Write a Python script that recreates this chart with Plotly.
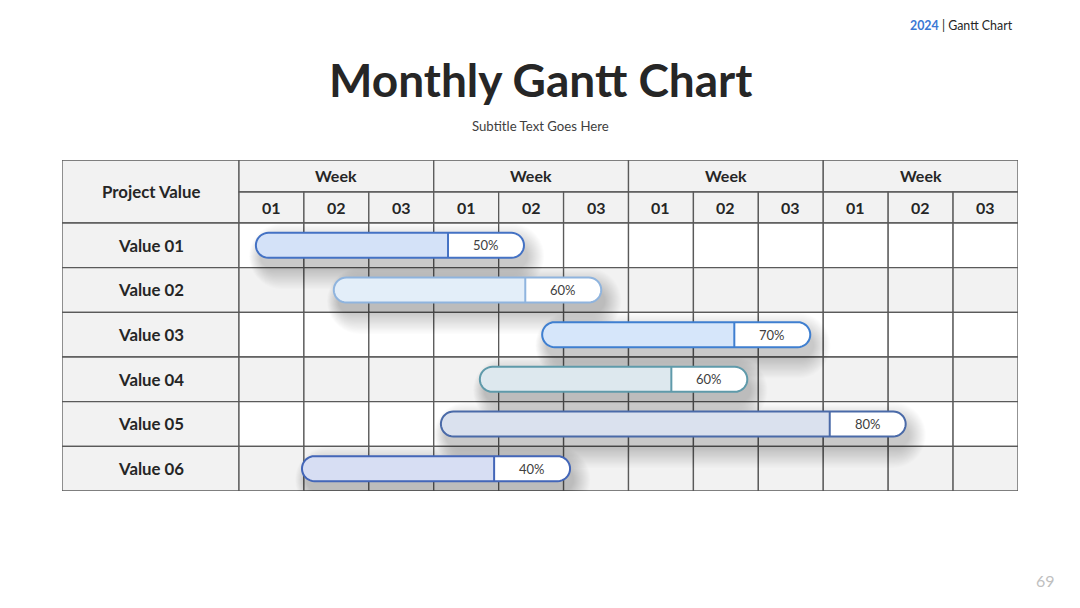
import plotly.graph_objects as go
import math

# ---------------- data ----------------
categories = ["Value 01", "Value 02", "Value 03", "Value 04", "Value 05", "Value 06"]
starts = [0.26, 1.46, 4.67, 3.71, 3.11, 0.97]      # in week-column units
ends = [4.39, 5.58, 8.80, 7.83, 10.27, 5.10]
progress = [50, 60, 70, 60, 80, 40]
week_groups = ["Week", "Week", "Week", "Week"]
week_numbers = ["01", "02", "03"]

# ---------------- styles ----------------
fills = ["#d4e2f8", "#e3eef9", "#d6e6fa", "#dde8ee", "#dae1ee", "#d7def3"]
borders = ["#4472c4", "#8fb4de", "#3f7fd0", "#5f9aaa", "#4a6aa8", "#4366b8"]
GRID = "#5a5a5a"
GREY = "#f2f2f2"
TXT = "#262626"
FONT = "Lato"

W, H = 1080, 608
X_LEFT_PX, X_RIGHT_PX = 62, 1018
Y_TOP_PX, Y_BOT_PX = 160, 491
NCOL = len(week_groups) * len(week_numbers)
LABEL_COL = (239 - 62) / ((1018 - 239) / NCOL)
X_RANGE = [-LABEL_COL, NCOL]
HDR1, HDR2 = -1.41, -0.694
Y_RANGE = [len(categories), HDR1]
LABEL_W = 1.17
BAR_H_PX = 25

px_x = (X_RIGHT_PX - X_LEFT_PX) / (X_RANGE[1] - X_RANGE[0])
px_y = (Y_BOT_PX - Y_TOP_PX) / (Y_RANGE[0] - Y_RANGE[1])

shapes = []
annotations = []


def ann(x, y, text, size, color=TXT, xref="x", yref="y", xanchor="center", bold=False):
    annotations.append(dict(x=x, y=y, xref=xref, yref=yref, xanchor=xanchor, yanchor="middle",
                            text=f"<b>{text}</b>" if bold else text, showarrow=False,
                            font=dict(family=FONT, size=size, color=color)))


def rect(x0, x1, y0, y1, fill, line=GRID, lw=1.3):
    shapes.append(dict(type="rect", xref="x", yref="y", x0=x0, x1=x1, y0=y0, y1=y1,
                       fillcolor=fill, line=dict(color=line, width=lw), layer="below"))


def pill_path(x0, x1, yc, hpx, left_round=True, right_round=True, n=18):
    r = hpx
    rx = r / px_x
    ry = r / px_y
    pts = []
    if right_round:
        for k in range(n + 1):
            a = -math.pi / 2 + math.pi * k / n
            pts.append((x1 - rx + rx * math.cos(a), yc + ry * math.sin(a)))
    else:
        pts += [(x1, yc - ry), (x1, yc + ry)]
    if left_round:
        for k in range(n + 1):
            a = math.pi / 2 + math.pi * k / n
            pts.append((x0 + rx + rx * math.cos(a), yc + ry * math.sin(a)))
    else:
        pts += [(x0, yc + ry), (x0, yc - ry)]
    return "M " + " L ".join(f"{px:.4f},{py:.4f}" for px, py in pts) + " Z"


# ---------------- table ----------------
rect(X_RANGE[0], 0, HDR1, 0, GREY)
for g in range(len(week_groups)):
    c0 = g * len(week_numbers)
    rect(c0, c0 + len(week_numbers), HDR1, HDR2, GREY)
    ann(c0 + len(week_numbers) / 2, (HDR1 + HDR2) / 2, week_groups[g], 16, bold=True)
    for j, wn in enumerate(week_numbers):
        rect(c0 + j, c0 + j + 1, HDR2, 0, GREY)
        ann(c0 + j + 0.5, HDR2 / 2, wn, 16, bold=True)
ann(X_RANGE[0] / 2, HDR1 / 2, "Project Value", 16.8, bold=True)

for i, cat in enumerate(categories):
    rect(X_RANGE[0], 0, i, i + 1, GREY)
    rowfill = "#ffffff" if i % 2 == 0 else GREY
    for c in range(NCOL):
        rect(c, c + 1, i, i + 1, rowfill)
    ann(X_RANGE[0] / 2, i + 0.5, cat, 16.8, bold=True)

# ---------------- bars ----------------
hpx = BAR_H_PX / 2
for i, (s, e, p) in enumerate(zip(starts, ends, progress)):
    yc = i + 0.5
    # soft shadow
    nl = 18
    for k in range(nl):
        grow = k * 1.6
        offy = 11 / px_y
        offx = 4 / px_x
        shapes.append(dict(type="path", xref="x", yref="y",
                           path=pill_path(s + offx - grow * 0.4 / px_x, e + offx + grow * 0.6 / px_x,
                                          yc + offy, hpx + grow * 0.75),
                           fillcolor="rgba(0,0,0,0.011)", line=dict(width=0), layer="above"))
    split = e - LABEL_W
    shapes.append(dict(type="path", xref="x", yref="y", path=pill_path(s, e, yc, hpx),
                       fillcolor="#ffffff", line=dict(width=0), layer="above"))
    shapes.append(dict(type="path", xref="x", yref="y",
                       path=pill_path(s, split, yc, hpx, right_round=False),
                       fillcolor=fills[i], line=dict(width=0), layer="above"))
    shapes.append(dict(type="line", xref="x", yref="y", x0=split, x1=split,
                       y0=yc - hpx / px_y, y1=yc + hpx / px_y,
                       line=dict(color=borders[i], width=2), layer="above"))
    shapes.append(dict(type="path", xref="x", yref="y", path=pill_path(s, e, yc, hpx),
                       fillcolor="rgba(0,0,0,0)", line=dict(color=borders[i], width=2), layer="above"))
    ann(split + LABEL_W / 2, yc, f"{p}%", 13, color="#404040")

# ---------------- page texts ----------------
ann(0.5, 1 - 79 / H, "Monthly Gantt Chart", 46, xref="paper", yref="paper", bold=True)
ann(0.5, 1 - 126 / H, "Subtitle Text Goes Here", 13.2, color="#404040", xref="paper", yref="paper")
ann(1015 / W, 1 - 25 / H, "<b><span style='color:#3a78d4'>2024</span></b> | Gantt Chart", 12.4,
    xref="paper", yref="paper", xanchor="right")
ann(1045 / W, 1 - 580 / H, "69", 16, color="#bfbfbf", xref="paper", yref="paper")

fig = go.Figure()
fig.add_trace(go.Scatter(x=[None], y=[None], showlegend=False))
fig.update_layout(
    width=W, height=H, margin=dict(l=0, r=0, t=0, b=0),
    paper_bgcolor="#ffffff", plot_bgcolor="rgba(0,0,0,0)",
    xaxis=dict(range=X_RANGE, domain=[X_LEFT_PX / W, X_RIGHT_PX / W], visible=False, fixedrange=True),
    yaxis=dict(range=Y_RANGE, domain=[1 - Y_BOT_PX / H, 1 - Y_TOP_PX / H], visible=False, fixedrange=True),
    shapes=shapes, annotations=annotations, showlegend=False,
)
fig.write_html("out.html", post_script="document.body.style.margin='0px';",
               config={"displayModeBar": False})
